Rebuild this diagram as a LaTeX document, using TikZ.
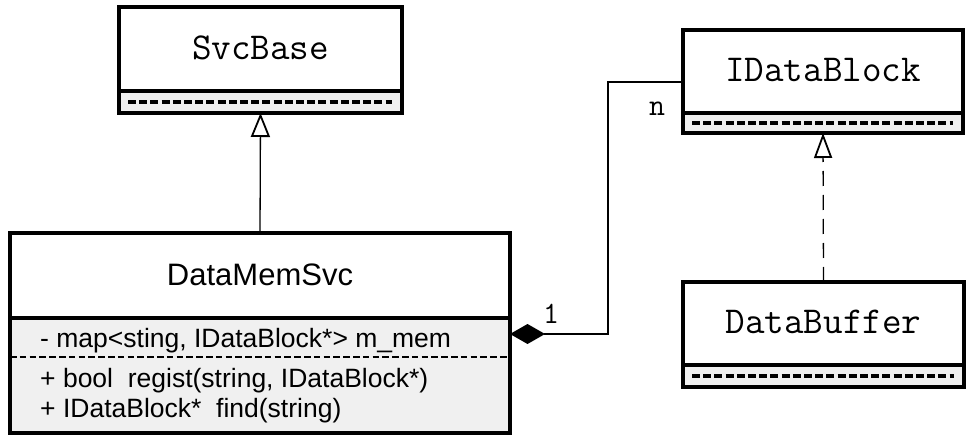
\documentclass[tikz,border=0pt]{standalone}
\usepackage{fontspec}
\setsansfont{Liberation Sans}
\usetikzlibrary{arrows.meta}
\definecolor{compgray}{HTML}{F0F0F0}
\begin{document}
\begin{tikzpicture}[x=1pt,y=-1pt,
  boxtop/.style={draw=black,line width=3.4pt,fill=white,inner sep=0pt,outer sep=0pt},
  boxlow/.style={draw=black,line width=3.4pt,fill=compgray,inner sep=0pt,outer sep=0pt},
  monotitle/.style={font=\ttfamily\addfontfeature{FakeStretch=0.92}\fontsize{38}{40}\selectfont,anchor=base,inner sep=0pt},
  monolabel/.style={font=\ttfamily\addfontfeature{FakeStretch=0.92}\fontsize{31}{34}\selectfont,inner sep=0pt},
  sanstitle/.style={font=\sffamily\fontsize{31}{34}\selectfont,anchor=base,inner sep=0pt},
  member/.style={font=\sffamily\fontsize{26.5}{30}\selectfont,anchor=base west,inner sep=0pt},
  compdash/.style={line width=3.8pt,dash pattern=on 8pt off 3.2pt},
  memberdash/.style={line width=2.8pt,dash pattern=on 6.5pt off 3.3pt},
  inherit/.style={line width=1.3pt,-{Triangle[open,length=24pt,width=19pt,line width=1.8pt]}},
  realize/.style={line width=1.3pt,dash pattern=on 15pt off 9pt,-{Triangle[open,length=25pt,width=18pt,line width=1.8pt]}},
  compose/.style={line width=1.3pt,{Diamond[length=35pt,width=20pt]}-}
]
\useasboundingbox (0,0) rectangle (974,446);

% SvcBase
\node[boxtop,minimum width=283pt,minimum height=84pt] (svcT) at (260.5,49) {};
\node[boxlow,minimum width=283pt,minimum height=22pt] (svcB) at (260.5,102) {};
\draw[compdash] ([xshift=9pt]svcB.west) -- ([xshift=-10pt]svcB.east);
\node[monotitle] (svcname) at (260.5,60) {SvcBase};

% IDataBlock
\node[boxtop,minimum width=280pt,minimum height=83pt] (idbT) at (823,71.5) {};
\node[boxlow,minimum width=280pt,minimum height=20pt] (idbB) at (823,123) {};
\draw[compdash] ([xshift=9pt]idbB.west) -- ([xshift=-10pt]idbB.east);
\node[monotitle] (idbname) at (823,82) {IDataBlock};

% DataBuffer
\node[boxtop,minimum width=281pt,minimum height=83pt] (dbufT) at (823.5,323.5) {};
\node[boxlow,minimum width=281pt,minimum height=22pt] (dbufB) at (823.5,376) {};
\draw[compdash] ([xshift=9pt]dbufB.west) -- ([xshift=-10pt]dbufB.east);
\node[monotitle] (dbufname) at (823.5,333) {DataBuffer};

% DataMemSvc
\node[boxtop,minimum width=500pt,minimum height=85pt] (dmsT) at (260,275.5) {};
\node[boxlow,minimum width=500pt,minimum height=115pt] (dmsB) at (260,375.5) {};
\draw[memberdash] ([yshift=-39pt]dmsB.north west) -- ([yshift=-39pt]dmsB.north east);
\node[sanstitle] (dmsname) at (260,285) {DataMemSvc};
\node[member] (attr) at (40,347) {- map<sting, IDataBlock*> m\_mem};
\node[member] (op1) at (40,387) {+ bool\ \ regist(string, IDataBlock*)};
\node[member] (op2) at (40,417) {+ IDataBlock*\ \ find(string)};

% connectors
\draw[inherit] (dmsT.north) -- (svcB.south);
\draw[realize] (dbufT.north) -- (idbB.south);
\draw[compose] ([yshift=-16pt]dmsB.north east) -| ([xshift=-75pt,yshift=-10.5pt]idbT.west) -- ([yshift=-10.5pt]idbT.west);

\node[monolabel] (lbln) at (657,109) {n};
\node[monolabel] (lblone) at (551,314) {1};
\end{tikzpicture}
\end{document}
